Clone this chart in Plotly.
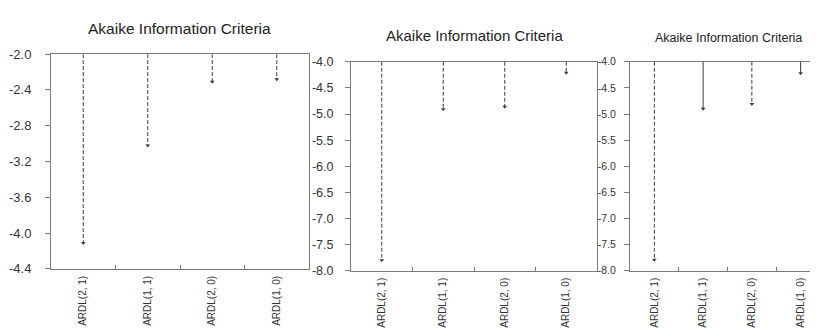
import plotly.graph_objects as go

categories = ["ARDL(2, 1)", "ARDL(1, 1)", "ARDL(2, 0)", "ARDL(1, 0)"]
aic_panel1 = [-4.11, -3.02, -2.31, -2.28]
aic_panel2 = [-7.80, -4.91, -4.86, -4.21]
aic_panel3 = [-7.79, -4.90, -4.81, -4.22]
yticks_panel1 = [-2.0, -2.4, -2.8, -3.2, -3.6, -4.0, -4.4]
yticks_panel23 = [-4.0, -4.5, -5.0, -5.5, -6.0, -6.5, -7.0, -7.5, -8.0]
title_text = "Akaike Information Criteria"

panels = [
    dict(vals=aic_panel1, ticks=yticks_panel1,
         dom_x=[43/818, 301/818], dom_y=[(328-266)/328, (328-41)/328],
         title_x=171, title_y=14, title_size=15.5, tick_size=13, standoff=11,
         dashes=["4px,2px"]*4),
    dict(vals=aic_panel2, ticks=yticks_panel23,
         dom_x=[343/818, 589/818], dom_y=[(328-268)/328, (328-49)/328],
         title_x=466, title_y=22, title_size=15, tick_size=12.5, standoff=9,
         dashes=["4px,2px"]*4),
    dict(vals=aic_panel3, ticks=yticks_panel23,
         dom_x=[622/818, 817/818], dom_y=[(328-268)/328, (328-49)/328],
         title_x=720, title_y=24, title_size=12.5, tick_size=10.5, standoff=6,
         dashes=["4px,2px", "solid", "4px,2px", "solid"]),
]

fig = go.Figure()
line_color = "#3a3a3a"
axis_color = "#7a7a7a"

for i, p in enumerate(panels):
    suffix = "" if i == 0 else str(i + 1)
    xa, ya = "x" + suffix, "y" + suffix
    top, bottom = max(p["ticks"]), min(p["ticks"])
    for cat, v, dash in zip(categories, p["vals"], p["dashes"]):
        fig.add_trace(go.Scatter(
            x=[cat, cat], y=[top, v], mode="lines",
            line=dict(color=line_color, width=1, dash=dash),
            xaxis=xa, yaxis=ya, showlegend=False, hoverinfo="skip"))
    fig.add_trace(go.Scatter(
        x=categories, y=p["vals"], mode="markers",
        marker=dict(symbol="triangle-down", size=4, color=line_color),
        xaxis=xa, yaxis=ya, showlegend=False))

    fig.update_layout(**{
        "xaxis" + suffix: dict(
            domain=p["dom_x"], anchor=ya, type="category",
            categoryorder="array", categoryarray=categories,
            range=[-0.5, 3.5], showgrid=False, zeroline=False,
            showline=True, mirror=True, linecolor=axis_color, linewidth=1,
            ticks="inside", ticklen=4, tickcolor=axis_color,
            tickson="boundaries", tickangle=-90,
            tickfont=dict(family="Liberation Sans, Arial", size=10, color="#333333"),
            ticklabelstandoff=2),
        "yaxis" + suffix: dict(
            domain=p["dom_y"], anchor=xa,
            range=[bottom, top], tickmode="array",
            tickvals=p["ticks"], ticktext=[f"{t:.1f}" for t in p["ticks"]],
            showgrid=False, zeroline=False,
            showline=True, mirror=True, linecolor=axis_color, linewidth=1,
            ticks="outside", ticklen=5, tickcolor=axis_color,
            tickfont=dict(family="Liberation Sans, Arial", size=p["tick_size"], color="#333333"),
            ticklabelstandoff=p["standoff"]),
    })
    fig.add_annotation(
        text=title_text, x=p["title_x"] / 818, y=1 - p["title_y"] / 328,
        xref="paper", yref="paper", xanchor="center", yanchor="middle",
        showarrow=False,
        font=dict(family="Liberation Sans, Arial", size=p["title_size"], color="#222222"))

fig.update_layout(
    width=818, height=328,
    margin=dict(l=0, r=0, t=0, b=0),
    paper_bgcolor="white", plot_bgcolor="white",
)

fig.write_html("out.html")
